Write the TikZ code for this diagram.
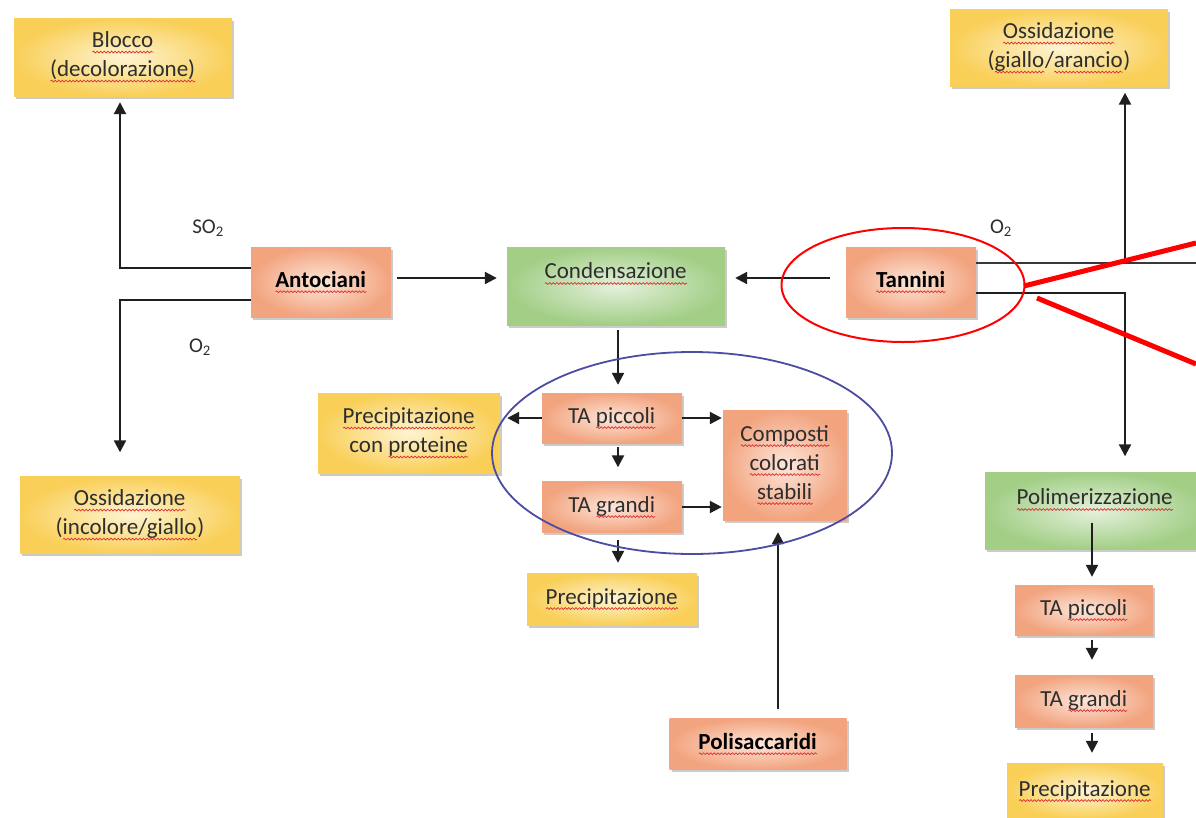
\documentclass[tikz,border=0pt]{standalone}
\usepackage{fontspec}
\setmainfont{Carlito}
\usetikzlibrary{arrows.meta,calc,shadows,decorations.pathmorphing}
\definecolor{sqred}{HTML}{D83030}
\definecolor{txt}{HTML}{2E2E2E}
\definecolor{yout}{HTML}{F9CF58}
\definecolor{yin}{HTML}{FEF4D2}
\definecolor{oout}{HTML}{F2A47F}
\definecolor{oin}{HTML}{FDE6DA}
\definecolor{gout}{HTML}{A2CE86}
\definecolor{gin}{HTML}{E4F1DC}
\definecolor{ellblue}{HTML}{4C4CA2}
\newsavebox\sqbox
\newcommand\sq[1]{\sbox\sqbox{#1}\leavevmode\rlap{\usebox\sqbox}\tikz[baseline=0pt,x=1pt,y=1pt]{\draw[sqred,line width=0.7pt,decorate,decoration={snake,amplitude=0.9pt,segment length=3.6pt}] (0,-4.5) -- (\the\wd\sqbox,-4.5);}}
\tikzset{
  boxbase/.style={rectangle, align=center, text=txt, inner sep=2pt,
    drop shadow={shadow xshift=2pt, shadow yshift=-2.5pt, fill=black!45, opacity=.45}},
  ybox/.style={boxbase, inner color=yin, outer color=yout},
  obox/.style={boxbase, inner color=oin, outer color=oout},
  gbox/.style={boxbase, inner color=gin, outer color=gout},
  arr/.style={draw=black!88, line width=2.2pt, -{Triangle[length=12pt,width=12pt]}},
  plain/.style={draw=black!78, line width=2.2pt},
  lbl/.style={text=txt, font=\fontsize{21}{25}\selectfont, inner sep=0pt},
}
\begin{document}
\begin{tikzpicture}[x=1pt,y=-1pt,font=\fontsize{23}{29}\selectfont]
\useasboundingbox (0,0) rectangle (1196,817);
\fill[white] (0,0) rectangle (1196,817);
\clip (0,0) rectangle (1196,817);

% nodes
\node[ybox, minimum width=218pt, minimum height=78pt] (blocco) at (123,57) {\sq{Blocco}\\\sq{(decolorazione)}};
\node[ybox, minimum width=218pt, minimum height=77pt] (ossGA) at (1059,48) {\sq{Ossidazione}\\(\sq{giallo}/\sq{arancio})};
\node[obox, minimum width=140pt, minimum height=70pt] (anto) at (321,282) {\textbf{\color{black}\sq{Antociani}}};
\node[gbox, minimum width=218pt, minimum height=78pt, text depth=30pt] (cond) at (616,286) {\sq{Condensazione}};
\node[obox, minimum width=130pt, minimum height=70pt] (tann) at (911,282) {\textbf{\color{black}\sq{Tannini}}};
\node[ybox, minimum width=220pt, minimum height=77pt] (ossIG) at (130,515) {\sq{Ossidazione}\\(\sq{incolore/giallo})};
\node[ybox, minimum width=182pt, minimum height=80pt] (precProt) at (409,433) {\sq{Precipitazione}\\con \sq{proteine}};
\node[obox, minimum width=140pt, minimum height=50pt] (tap1) at (612,418) {TA \sq{piccoli}};
\node[obox, minimum width=140pt, minimum height=51pt] (tag1) at (612,507) {TA \sq{grandi}};
\node[obox, minimum width=124pt, minimum height=110pt] (comp) at (785,465) {\sq{Composti}\\\sq{colorati}\\\sq{stabili}};
\node[ybox, minimum width=170pt, minimum height=52pt] (prec1) at (612,599) {\sq{Precipitazione}};
\node[obox, minimum width=177pt, minimum height=51pt] (poli) at (758,744) {\textbf{\color{black}\sq{Polisaccaridi}}};
\node[gbox, minimum width=220pt, minimum height=77pt, text depth=28pt] (polim) at (1095,511) {\sq{Polimerizzazione}};
\node[obox, minimum width=138pt, minimum height=50pt] (tap2) at (1084,610) {TA \sq{piccoli}};
\node[obox, minimum width=138pt, minimum height=52pt] (tag2) at (1084,701) {TA \sq{grandi}};
\node[ybox, minimum width=156pt, minimum height=56pt] (prec2) at (1085,791) {\sq{Precipitazione}};

% labels
\node[lbl] (so2) at (208,228) {SO\textsubscript{2}};
\node[lbl] (o2a) at (200,347) {O\textsubscript{2}};
\node[lbl] (o2b) at (1001,228) {O\textsubscript{2}};

% Antociani connectors
\draw[arr] ($(anto.west)+(0,-14)$) -| ($(blocco.south)+(-3,6)$);
\draw[arr] ($(anto.west)+(0,18)$) -| ($(ossIG.north)+(-10,-24)$);
\draw[arr] ($(anto.east)+(6,-4)$) -- ($(cond.west)+(-10,-8)$);

% Tannini connectors
\draw[arr] ($(tann.west)+(-16,-4)$) -- ($(cond.east)+(10,-8)$);
\coordinate (jA) at (1125,263);
\coordinate (edgeA) at (1196,263);
\draw[plain] ($(tann.east)+(0,-19)$) -- (edgeA);
\draw[arr, shorten >=6pt] (jA) -- (jA |- ossGA.south);
\draw[arr, shorten >=16pt] ($(tann.east)+(0,11)$) -| ($(polim.north)+(30,0)$);

% central cluster
\draw[arr] ($(cond.south)+(2,5)$) -- ($(tap1.north)+(6,-8)$);
\draw[arr] (tap1.west) -- ($(precProt.east)+(7,-15)$);
\draw[arr, shorten >=1pt] (tap1.east) -- (comp.west |- tap1.east);
\draw[arr, shorten >=1pt] (tag1.east) -- (comp.west |- tag1.east);
\draw[arr] ($(tap1.south)+(6,4)$) -- ($(tag1.north)+(6,-14)$);
\draw[arr] ($(tag1.south)+(6,7)$) -- ($(prec1.north)+(6,-10)$);
\draw[arr] ($(poli.north)+(20,-9)$) -- ($(comp.south)+(-7,12)$);

% right column
\draw[arr] ($(polim.south)+(-3,-27)$) -- ($(tap2.north)+(8,-8)$);
\draw[arr] ($(tap2.south)+(8,5)$) -- ($(tag2.north)+(8,-15)$);
\draw[arr] ($(tag2.south)+(8,6)$) -- ($(prec2.north)+(7,-10)$);

% highlight ellipses and red strokes
\draw[ellblue, line width=1.8pt] (692,453) ellipse [x radius=200, y radius=101];
\draw[red, line width=2pt] (903,285) ellipse [x radius=121.5, y radius=57];
\coordinate (r1a) at (1024,286);
\coordinate (r1b) at (1196,243);
\coordinate (r2a) at (1037,298);
\coordinate (r2b) at (1196,364);
\draw[red, line width=5pt] (r1a) -- (r1b);
\draw[red, line width=5pt] (r2a) -- (r2b);
\end{tikzpicture}
\end{document}
